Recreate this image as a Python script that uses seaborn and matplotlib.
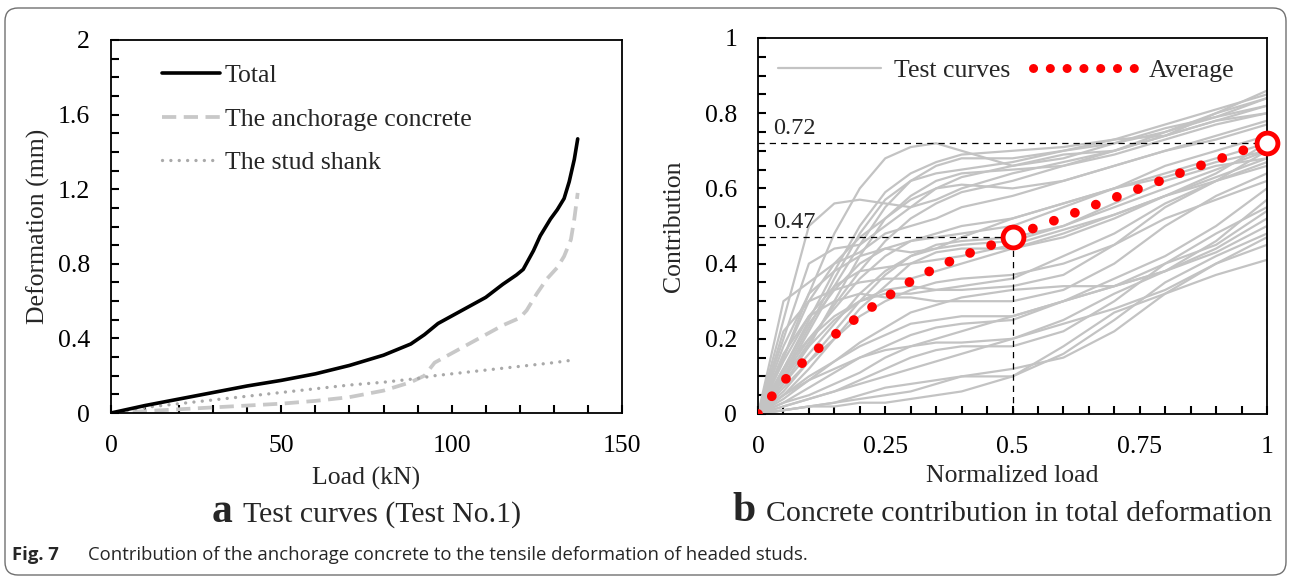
import numpy as np
import pandas as pd
import matplotlib
matplotlib.use("Agg")
import matplotlib.pyplot as plt
import seaborn as sns
from matplotlib.ticker import MultipleLocator, FuncFormatter
from matplotlib.lines import Line2D
from matplotlib.patches import FancyBboxPatch
from matplotlib.transforms import IdentityTransform

# ---------------- data: panel a ----------------
total_load = [0, 10, 20, 30, 40, 50, 60, 70, 80, 88, 92, 96, 100, 105, 110, 115, 119, 121, 124, 126, 129, 131, 133, 134.5, 136, 137]
total_def = [0, 0.04, 0.075, 0.11, 0.145, 0.175, 0.21, 0.255, 0.31, 0.37, 0.42, 0.48, 0.52, 0.57, 0.62, 0.69, 0.74, 0.77, 0.87, 0.95, 1.04, 1.09, 1.15, 1.24, 1.36, 1.47]

conc_load = [0, 10, 20, 30, 40, 50, 60, 70, 80, 88, 92, 95, 100, 105, 110, 115, 120, 122, 125, 128, 131, 133, 135, 136, 137]
conc_def = [0, 0.01, 0.02, 0.03, 0.04, 0.05, 0.065, 0.085, 0.12, 0.165, 0.2, 0.27, 0.32, 0.37, 0.42, 0.47, 0.51, 0.55, 0.64, 0.72, 0.78, 0.84, 0.93, 1.04, 1.18]

stud_load = [0, 10, 20, 30, 40, 50, 60, 70, 80, 90, 95, 100, 110, 120, 130, 136]
stud_def = [0, 0.03, 0.05, 0.07, 0.09, 0.11, 0.13, 0.15, 0.165, 0.185, 0.2, 0.21, 0.23, 0.25, 0.27, 0.285]

# ---------------- data: panel b ----------------
norm_load = [0, 0.05, 0.1, 0.15, 0.2, 0.25, 0.3, 0.35, 0.4, 0.5, 0.6, 0.7, 0.8, 0.9, 1.0]
test_curves = [
    [0, .15, .32, .48, .60, .68, .71, .72, .70, .66, .68, .72, .76, .79, .82],
    [0, .25, .50, .56, .57, .56, .55, .57, .60, .64, .67, .70, .74, .78, .80],
    [0, .12, .25, .38, .50, .59, .64, .67, .69, .70, .71, .73, .74, .80, .86],
    [0, .10, .22, .34, .45, .55, .62, .66, .68, .68, .70, .72, .75, .79, .84],
    [0, .20, .40, .44, .45, .50, .55, .60, .63, .66, .69, .70, .74, .78, .82],
    [0, .08, .18, .30, .42, .52, .58, .62, .64, .65, .66, .69, .73, .77, .80],
    [0, .30, .35, .40, .43, .48, .50, .52, .55, .58, .62, .66, .70, .74, .78],
    [0, .15, .30, .40, .47, .52, .57, .60, .61, .60, .62, .66, .70, .73, .77],
    [0, .10, .20, .28, .36, .42, .46, .48, .50, .52, .56, .60, .64, .68, .72],
    [0, .12, .24, .33, .40, .44, .46, .47, .48, .50, .55, .60, .66, .70, .74],
    [0, .18, .32, .38, .42, .44, .43, .44, .47, .52, .56, .60, .63, .67, .70],
    [0, .06, .14, .22, .30, .37, .42, .45, .46, .47, .50, .55, .60, .65, .70],
    [0, .08, .16, .24, .32, .38, .42, .44, .45, .46, .50, .56, .62, .66, .68],
    [0, .14, .26, .34, .38, .39, .40, .41, .42, .45, .49, .53, .58, .63, .68],
    [0, .05, .12, .20, .28, .34, .40, .43, .44, .44, .47, .52, .58, .64, .72],
    [0, .22, .30, .33, .35, .36, .36, .38, .40, .44, .48, .53, .58, .62, .66],
    [0, .10, .18, .25, .30, .33, .34, .33, .33, .34, .37, .45, .55, .62, .70],
    [0, .16, .26, .30, .32, .31, .31, .30, .30, .30, .33, .40, .50, .58, .64],
    [0, .04, .09, .14, .19, .23, .27, .29, .31, .33, .34, .34, .38, .46, .57],
    [0, .05, .10, .14, .18, .21, .24, .25, .26, .26, .30, .36, .42, .50, .60],
    [0, .03, .07, .11, .15, .18, .21, .23, .24, .25, .30, .34, .40, .48, .55],
    [0, .03, .05, .08, .11, .15, .18, .20, .22, .26, .30, .34, .38, .43, .50],
    [0, .02, .04, .06, .09, .12, .15, .17, .18, .18, .22, .30, .40, .45, .54],
    [0, .02, .04, .06, .08, .10, .12, .14, .16, .20, .24, .28, .33, .40, .47],
    [0, .01, .02, .03, .05, .07, .08, .09, .10, .10, .16, .25, .35, .42, .48],
    [0, .01, .02, .03, .04, .05, .06, .08, .10, .12, .15, .22, .32, .40, .45],
    [0, .01, .02, .02, .03, .03, .04, .05, .06, .10, .18, .27, .32, .37, .41],
    [0, .05, .09, .12, .15, .17, .18, .19, .19, .20, .25, .32, .38, .44, .52],
    [0, .07, .14, .20, .26, .30, .33, .35, .36, .37, .40, .45, .52, .57, .62],
    [0, .12, .20, .26, .30, .32, .32, .33, .34, .36, .42, .48, .56, .62, .67],
    [0, .09, .19, .29, .38, .46, .52, .56, .59, .62, .66, .70, .75, .80, .84],
    [0, .11, .23, .36, .48, .57, .62, .64, .65, .67, .70, .73, .77, .81, .85],
]

avg_load = [0, 0.05, 0.1, 0.15, 0.2, 0.25, 0.3, 0.35, 0.4, 0.45, 0.5, 0.55, 0.6, 0.65, 0.7, 0.75, 0.8, 0.85, 0.9, 0.95, 1.0]
avg_contrib = [0, 0.087, 0.153, 0.21, 0.262, 0.309, 0.353, 0.389, 0.42, 0.445, 0.47, 0.499, 0.523, 0.55, 0.575, 0.60, 0.625, 0.652, 0.675, 0.70, 0.72]

key_load = [0.5, 1.0]
key_contrib = [0.47, 0.72]
key_labels = ["0.47", "0.72"]

# ---------------- figure ----------------
W, H = 1290, 577
sns.set_theme(style="ticks")
plt.rcParams["font.family"] = ["Liberation Serif", "DejaVu Serif"]

fig = plt.figure(figsize=(W / 100, H / 100), dpi=100)


def px_axes(x0, x1, y0, y1):
    return fig.add_axes([x0 / W, 1 - y1 / H, (x1 - x0) / W, (y1 - y0) / H])


axa = px_axes(111, 622, 40, 413)
axb = px_axes(758, 1267, 38, 414)

FS = 18.5
TFS = 18.5
gfmt = FuncFormatter(lambda v, p: f"{v:g}")

# ---- panel a ----
sns.lineplot(x=conc_load, y=conc_def, ax=axa, color="#c8c8c8", linewidth=2.7,
             linestyle=(0, (3.8, 2.0)), sort=False, estimator=None)
sns.lineplot(x=stud_load, y=stud_def, ax=axa, color="#a9a9a9", linewidth=2.4,
             linestyle=(0, (0.01, 2.5)), dash_capstyle="round", sort=False, estimator=None)
sns.lineplot(x=total_load, y=total_def, ax=axa, color="black", linewidth=2.6,
             sort=False, estimator=None)
axa.set_xlim(0, 150)
axa.set_ylim(0, 2)
axa.xaxis.set_major_locator(MultipleLocator(50))
axa.xaxis.set_minor_locator(MultipleLocator(10))
axa.yaxis.set_major_locator(MultipleLocator(0.4))
axa.yaxis.set_minor_locator(MultipleLocator(0.1))
axa.set_xlabel("Load (kN)", fontsize=FS, labelpad=7)
axa.set_ylabel("Deformation (mm)", fontsize=FS, labelpad=6)

ha = [Line2D([], [], color="black", lw=2.6),
      Line2D([], [], color="#c8c8c8", lw=2.7, linestyle=(0, (3.8, 2.0))),
      Line2D([], [], color="#a9a9a9", lw=2.4, linestyle=(0, (0.01, 2.5)), dash_capstyle="round")]
axa.legend(ha, ["Total", "The anchorage concrete", "The stud shank"],
           loc="upper left", bbox_to_anchor=(0.10, 0.935), frameon=False,
           fontsize=FS, handlelength=2.25, handletextpad=0.2, labelspacing=0.8,
           borderpad=0, borderaxespad=0)

# ---- panel b ----
rows = []
for i, c in enumerate(test_curves):
    for xv, yv in zip(norm_load, c):
        rows.append((i, xv, yv))
df = pd.DataFrame(rows, columns=["curve", "load", "contrib"])
sns.lineplot(data=df, x="load", y="contrib", units="curve", estimator=None,
             ax=axb, color="#c3c3c3", linewidth=1.6, sort=False, legend=False)

dash_ref = (0, (5, 4))
axb.plot([0, 1.0], [key_contrib[1], key_contrib[1]], color="black", lw=0.9, ls=dash_ref)
axb.plot([0, 0.5], [key_contrib[0], key_contrib[0]], color="black", lw=0.9, ls=dash_ref)
axb.plot([0.5, 0.5], [0, key_contrib[0]], color="black", lw=0.9, ls=dash_ref)
axb.plot([1.0, 1.0], [0, key_contrib[1]], color="black", lw=0.9, ls=dash_ref)

sns.lineplot(x=avg_load, y=avg_contrib, ax=axb, color="#ff0000", linewidth=7,
             linestyle=(0, (0.01, 2.3)), dash_capstyle="round", sort=False,
             estimator=None, zorder=5)
axb.plot(key_load, key_contrib, linestyle="none", marker="o", markersize=15,
         markerfacecolor="white", markeredgecolor="#ff0000", markeredgewidth=3.5,
         zorder=6, clip_on=False)
for xv, yv, lab in zip(key_load, key_contrib, key_labels):
    axb.text(0.03, yv + 0.012, lab, fontsize=17.5, ha="left", va="bottom")

axb.set_xlim(0, 1)
axb.set_ylim(0, 1)
axb.xaxis.set_major_locator(MultipleLocator(0.25))
axb.xaxis.set_minor_locator(MultipleLocator(0.05))
axb.yaxis.set_major_locator(MultipleLocator(0.2))
axb.yaxis.set_minor_locator(MultipleLocator(0.05))
axb.set_xlabel("Normalized load", fontsize=FS, labelpad=5)
axb.set_ylabel("Contribution", fontsize=FS, labelpad=14)

hb = [Line2D([], [], color="#c3c3c3", lw=1.6),
      Line2D([], [], color="#ff0000", lw=6.5, linestyle=(0, (0.01, 1.85)), dash_capstyle="round")]
axb.legend(hb, ["Test curves", "Average"], loc="upper left", ncol=2,
           bbox_to_anchor=(0.04, 0.945), frameon=False, fontsize=FS,
           handlelength=4.0, handletextpad=0.5, columnspacing=0.9,
           borderpad=0, borderaxespad=0)

# ---- axes styling ----
for ax in (axa, axb):
    for s in ax.spines.values():
        s.set_visible(True)
        s.set_color("black")
        s.set_linewidth(1.3)
    ax.xaxis.set_major_formatter(gfmt)
    ax.yaxis.set_major_formatter(gfmt)
    ax.tick_params(axis="both", which="both", direction="in", length=6,
                   width=1.5, color="black", labelsize=TFS, labelcolor="black",
                   top=False, right=False, bottom=True, left=True)
    ax.tick_params(axis="x", which="both", pad=16)
    ax.tick_params(axis="y", which="both", pad=15)

# ---- captions ----
def ftxt(x, y, s, **kw):
    fig.text(x / W, 1 - y / H, s, **kw)

ftxt(212, 522, "a", fontsize=30, fontweight="bold", va="baseline", ha="left")
ftxt(243, 522, "Test curves (Test No.1)", fontsize=21.5, va="baseline", ha="left")
ftxt(732, 521, "b", fontsize=30, fontweight="bold", va="baseline", ha="left")
ftxt(766, 521, "Concrete contribution in total deformation", fontsize=21.5, va="baseline", ha="left")

ftxt(12, 560, "Fig. 7", fontsize=13.3, fontweight="bold", va="baseline", ha="left",
     family=["Open Sans", "DejaVu Sans"])
ftxt(88, 560, "Contribution of the anchorage concrete to the tensile deformation of headed studs.",
     fontsize=13.3, va="baseline", ha="left", family=["Open Sans", "DejaVu Sans"])

border = FancyBboxPatch((5, H - 575), 1281, 567, boxstyle="round,pad=0,rounding_size=13",
                        transform=IdentityTransform(), fill=False, edgecolor="#707070",
                        linewidth=1.0)
fig.add_artist(border)

fig.savefig("out.png", dpi=100)
